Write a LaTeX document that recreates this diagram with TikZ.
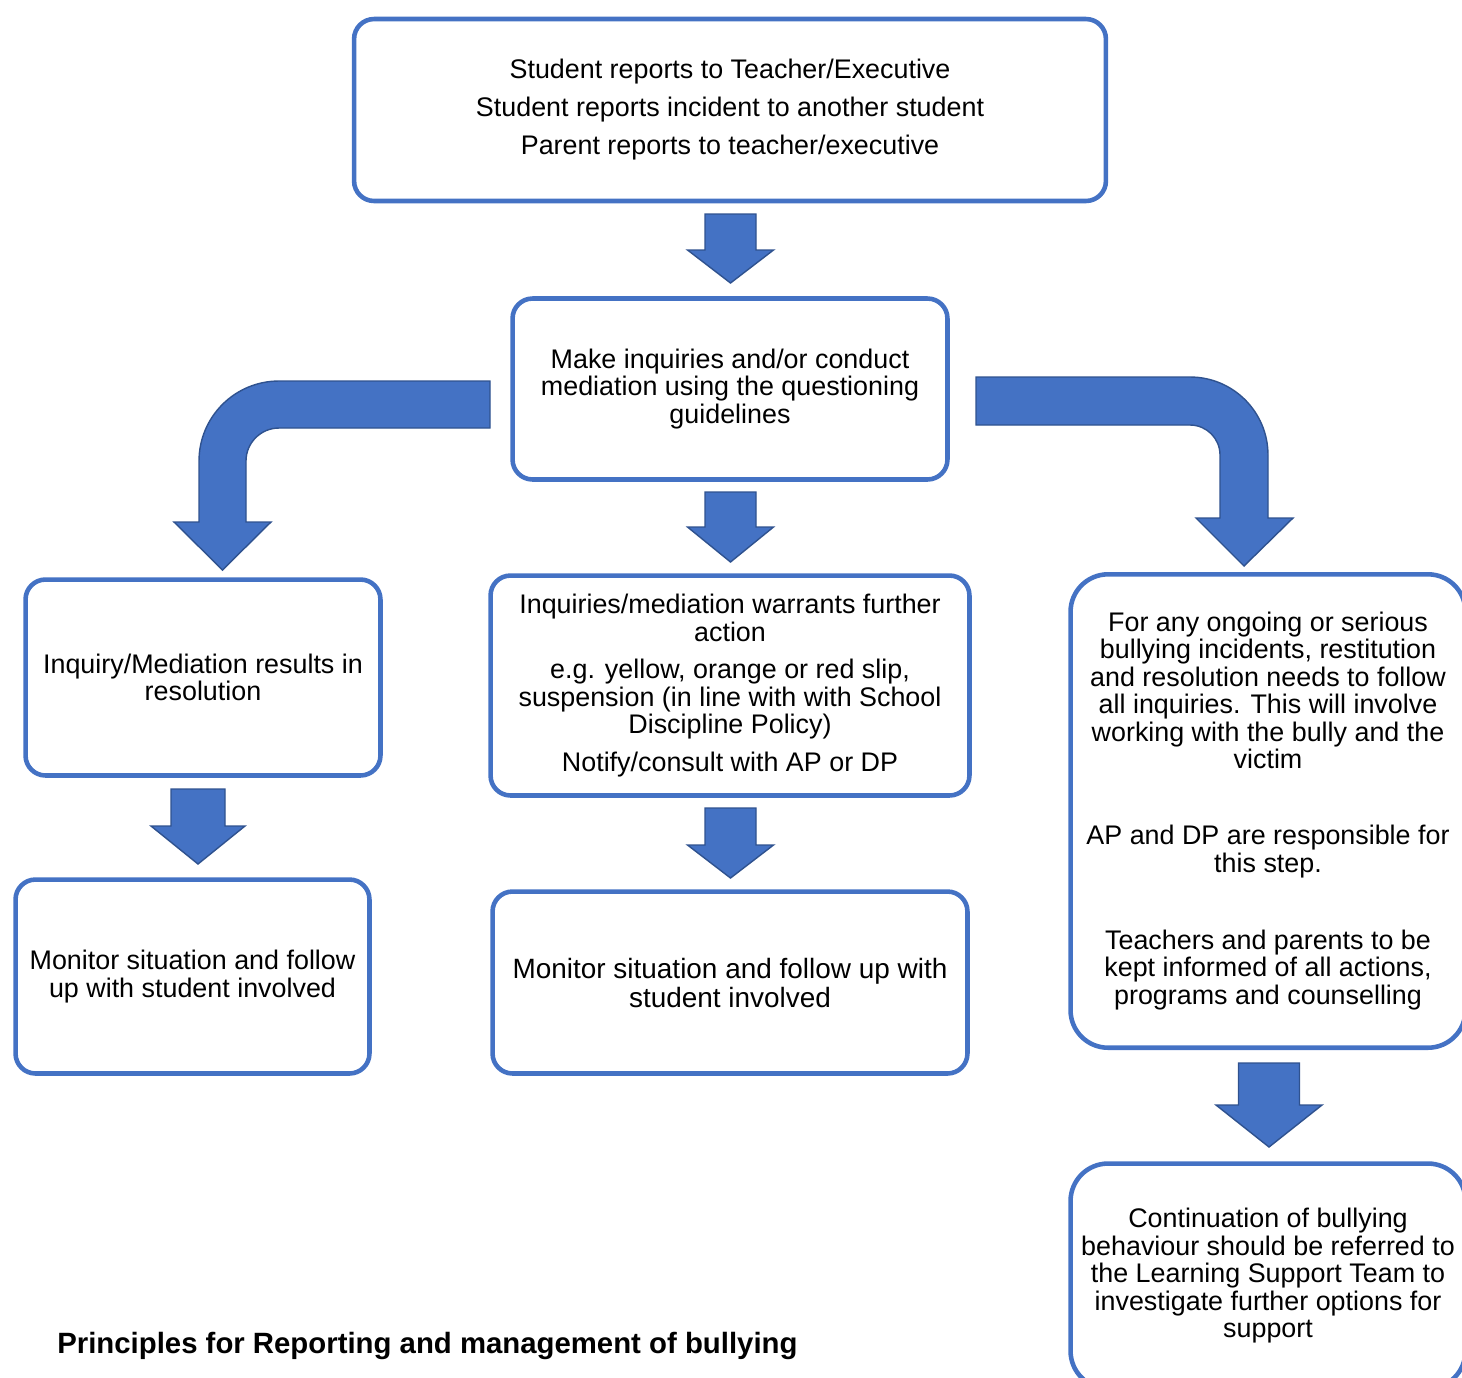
\documentclass[tikz,border=0pt]{standalone}
\usepackage{fontspec}
\setmainfont{Liberation Sans}
\usepackage{xcolor}
\usepackage{tikz}
\usetikzlibrary{positioning, arrows.meta, shapes}
\definecolor{boxblue}{RGB}{68,114,196}
\definecolor{arrowedge}{RGB}{47,82,143}

\tikzset{
    stepbox/.style={draw=boxblue, line width=2.6pt, rounded corners=0.4cm,
        align=center, font=\fontsize{15.3}{15.65}\selectfont, inner sep=0pt},
    widebox/.style={stepbox, rounded corners=0.75cm},
    blockarrow/.style={draw=arrowedge, line width=0.8pt, fill=boxblue, line join=miter}
}

% down block arrow: x, top, head, tip, half shaft, half head
\newcommand{\blockdown}[6]{%
    \draw[blockarrow] (#1-#5,#2) -- (#1+#5,#2) -- (#1+#5,#3) -- (#1+#6,#3)
        -- (#1,#4) -- (#1-#6,#3) -- (#1-#5,#3) -- cycle;}

\begin{document}
\begin{tikzpicture}[x=0.02cm, y=-0.02cm]
    \useasboundingbox (0,0) rectangle (1462,1377);

    \node[stepbox, minimum width=15.04cm, minimum height=3.64cm] (report) at (730,110) {
        Student reports to Teacher/Executive \\[6pt]
        Student reports incident to another student \\[6pt]
        Parent reports to teacher/executive
    };
    \node[stepbox, minimum width=8.7cm, minimum height=3.62cm] (inquire) at (730,389) {
        Make inquiries and/or conduct \\
        mediation using the questioning \\
        guidelines
    };
    \node[stepbox, minimum width=7.1cm, minimum height=3.92cm] (resolved) at (203,677.5) {
        Inquiry/Mediation results in \\
        resolution
    };
    \node[stepbox, minimum width=9.58cm, minimum height=4.4cm] (further) at (730,685.5) {
        Inquiries/mediation warrants further \\
        action \\[5.7pt]
        e.g. yellow, orange or red slip, \\
        suspension (in line with with School \\
        Discipline Policy) \\[5.7pt]
        Notify/consult with AP or DP
    };
    \node[widebox, minimum width=7.9cm, minimum height=9.47cm] (serious) at (1268,811) {
        For any ongoing or serious \\
        bullying incidents, restitution \\
        and resolution needs to follow \\
        all inquiries. This will involve \\
        working with the bully and the \\
        victim \\[27.6pt]
        AP and DP are responsible for \\
        this step. \\[28.2pt]
        Teachers and parents to be \\
        kept informed of all actions, \\
        programs and counselling
    };
    \node[stepbox, minimum width=7.08cm, minimum height=3.88cm] (monitorleft) at (192.5,976.5) {
        Monitor situation and follow \\
        up with student involved
    };
    \node[stepbox, minimum width=9.5cm, minimum height=3.64cm,
          font=\fontsize{15.9}{16.5}\selectfont] (monitormid) at (730,982.5) {
        Monitor situation and follow up with \\
        student involved
    };
    \node[widebox, minimum width=7.9cm, minimum height=4.5cm] (support) at (1268,1276) {
        Continuation of bullying \\
        behaviour should be referred to \\
        the Learning Support Team to \\
        investigate further options for \\
        support
    };

    % straight arrows
    \blockdown{730.5}{214}{250}{283}{25.5}{43}
    \blockdown{730.5}{492}{527}{562}{25.5}{43}
    \blockdown{730.5}{808}{845}{878}{25.5}{43}
    \blockdown{198}{789}{826}{864}{27}{47}
    \blockdown{1269}{1063}{1105}{1147}{30.5}{53}

    % bent arrows
    \draw[blockarrow] (490,381) -- (279,381) arc[start angle=90, end angle=180, radius=1.6cm]
        -- (199,522) -- (174,522) -- (222.5,570) -- (271,522) -- (246,522) -- (246,461)
        arc[start angle=180, end angle=90, radius=0.66cm] -- (490,428) -- cycle;
    \draw[blockarrow] (976,377) -- (1190,377) arc[start angle=90, end angle=0, radius=1.56cm]
        -- (1268,518) -- (1293,518) -- (1244,566) -- (1196,518) -- (1220,518) -- (1220,455)
        arc[start angle=0, end angle=90, radius=0.6cm] -- (976,425) -- cycle;

    \node[anchor=west, font=\fontsize{16.7}{18}\selectfont\bfseries, inner sep=0pt] (title) at (57,1346)
        {Principles for Reporting and management of bullying};
\end{tikzpicture}
\end{document}
